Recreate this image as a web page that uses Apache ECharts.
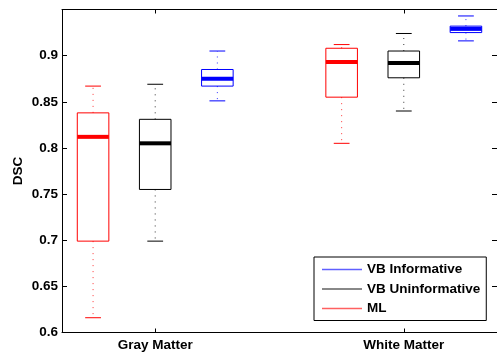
<!DOCTYPE html>
<html>
<head>
<meta charset="utf-8">
<script src="https://cdn.jsdelivr.net/npm/echarts@6/dist/echarts.min.js"></script>
<style>
html,body{margin:0;padding:0;background:#fff;}
#chart{width:497px;height:354px;}
</style>
</head>
<body>
<div id="chart"></div>
<script>
// ---- data ----
const categories = ['Gray Matter', 'White Matter'];
const methods = ['ML', 'VB Uninformative', 'VB Informative'];
const legendOrder = ['VB Informative', 'VB Uninformative', 'ML'];
// [min, q1, median, q3, max] per category
const mlStats  = [[0.616, 0.699, 0.812, 0.838, 0.867], [0.805, 0.855, 0.893, 0.908, 0.912]];
const vbuStats = [[0.699, 0.755, 0.805, 0.831, 0.869], [0.840, 0.876, 0.892, 0.905, 0.924]];
const vbiStats = [[0.851, 0.867, 0.875, 0.885, 0.905], [0.916, 0.925, 0.929, 0.932, 0.943]];
const yTicks = [0.6, 0.65, 0.7, 0.75, 0.8, 0.85, 0.9];

// ---- style ----
const colors = ['#ff0000', '#000000', '#0000ff'];
const legendColors = {'ML': '#ff6060', 'VB Uninformative': '#606060', 'VB Informative': '#6060ff'};
const offsets = [-0.25, 0, 0.25];
const boxW = 0.127;
const FONT = "'Liberation Sans', Arial, sans-serif";
const FS = 13.5;
const allStats = [mlStats, vbuStats, vbiStats];

function renderItem(params, api) {
  const x = api.value(0);
  const color = api.visual('color');
  const lo = api.coord([x, api.value(1)]);
  const q1 = api.coord([x, api.value(2)]);
  const md = api.coord([x, api.value(3)]);
  const q3 = api.coord([x, api.value(4)]);
  const hi = api.coord([x, api.value(5)]);
  const w = api.size([boxW, 0])[0];
  const cx = q1[0];
  const hw = w / 2, cw = w / 4;
  const thin = {stroke: color, lineWidth: 1, fill: null};
  const dot = {stroke: color, lineWidth: 1, lineDash: [1, 5], opacity: 0.8};
  return {
    type: 'group',
    children: [
      {type: 'line', shape: {x1: cx, y1: q3[1], x2: cx, y2: hi[1]}, style: dot},
      {type: 'line', shape: {x1: cx, y1: q1[1], x2: cx, y2: lo[1]}, style: dot},
      {type: 'line', shape: {x1: cx - cw, y1: hi[1], x2: cx + cw, y2: hi[1]}, style: thin},
      {type: 'line', shape: {x1: cx - cw, y1: lo[1], x2: cx + cw, y2: lo[1]}, style: thin},
      {type: 'rect', shape: {x: cx - hw, y: q3[1], width: w, height: q1[1] - q3[1]}, style: thin},
      {type: 'line', shape: {x1: cx - hw, y1: md[1], x2: cx + hw, y2: md[1]}, style: {stroke: color, lineWidth: 4}}
    ]
  };
}

const series = methods.map((name, m) => ({
  name: name,
  type: 'custom',
  renderItem: renderItem,
  itemStyle: {color: colors[m]},
  encode: {x: 0, y: [1, 2, 3, 4, 5]},
  data: categories.map((c, i) => [i + 1 + offsets[m]].concat(allStats[m][i])),
  z: 3
}));

const chart = echarts.init(document.getElementById('chart'), null, {renderer: 'canvas'});
const axisLine = {show: true, onZero: false, lineStyle: {color: '#000', width: 1}};
chart.setOption({
  animation: false,
  backgroundColor: '#fff',
  grid: {left: 62, top: 9.5, width: 436, height: 323, containLabel: false},
  legend: {
    orient: 'vertical',
    left: 314, top: 257,
    selectedMode: false,
    itemWidth: 40, itemHeight: 1.5, itemGap: 5.5,
    padding: [5.5, 6, 5, 8],
    borderColor: '#000', borderWidth: 1,
    backgroundColor: '#fff',
    textStyle: {fontFamily: FONT, fontWeight: 'bold', fontSize: FS, color: '#000'},
    data: legendOrder.map(n => ({name: n, icon: 'rect', itemStyle: {color: legendColors[n]}}))
  },
  xAxis: [{
    type: 'value', min: 0.625, max: 2.375, position: 'bottom',
    axisLine: axisLine,
    splitLine: {show: false},
    axisTick: {show: true, inside: true, length: 4, customValues: [1, 2], lineStyle: {color: '#000'}},
    axisLabel: {show: true, customValues: [1, 2], margin: 6, fontFamily: FONT, fontWeight: 'bold', fontSize: FS, color: '#000',
      formatter: v => categories[Math.round(v) - 1] || ''}
  }, {
    type: 'value', min: 0.625, max: 2.375, position: 'top',
    axisLine: axisLine,
    splitLine: {show: false},
    axisTick: {show: true, inside: true, length: 4, customValues: [1, 2], lineStyle: {color: '#000'}},
    axisLabel: {show: false}
  }],
  yAxis: [{
    type: 'value', min: 0.6, max: 0.95, interval: 0.05, position: 'left',
    name: 'DSC', nameLocation: 'middle', nameGap: 37, nameMoveOverlap: false,
    nameTextStyle: {fontFamily: FONT, fontWeight: 'bold', fontSize: FS, color: '#000'},
    axisLine: axisLine,
    splitLine: {show: false},
    axisTick: {show: true, inside: true, length: 5, customValues: yTicks, lineStyle: {color: '#000'}},
    axisLabel: {customValues: yTicks, margin: 4, fontFamily: FONT, fontWeight: 'bold', fontSize: FS, color: '#000',
      formatter: v => String(+v.toFixed(2))}
  }, {
    type: 'value', min: 0.6, max: 0.95, interval: 0.05, position: 'right',
    axisLine: axisLine,
    splitLine: {show: false},
    axisTick: {show: true, inside: true, length: 5, customValues: yTicks, lineStyle: {color: '#000'}},
    axisLabel: {show: false}
  }],
  series: series
});
</script>
</body>
</html>
